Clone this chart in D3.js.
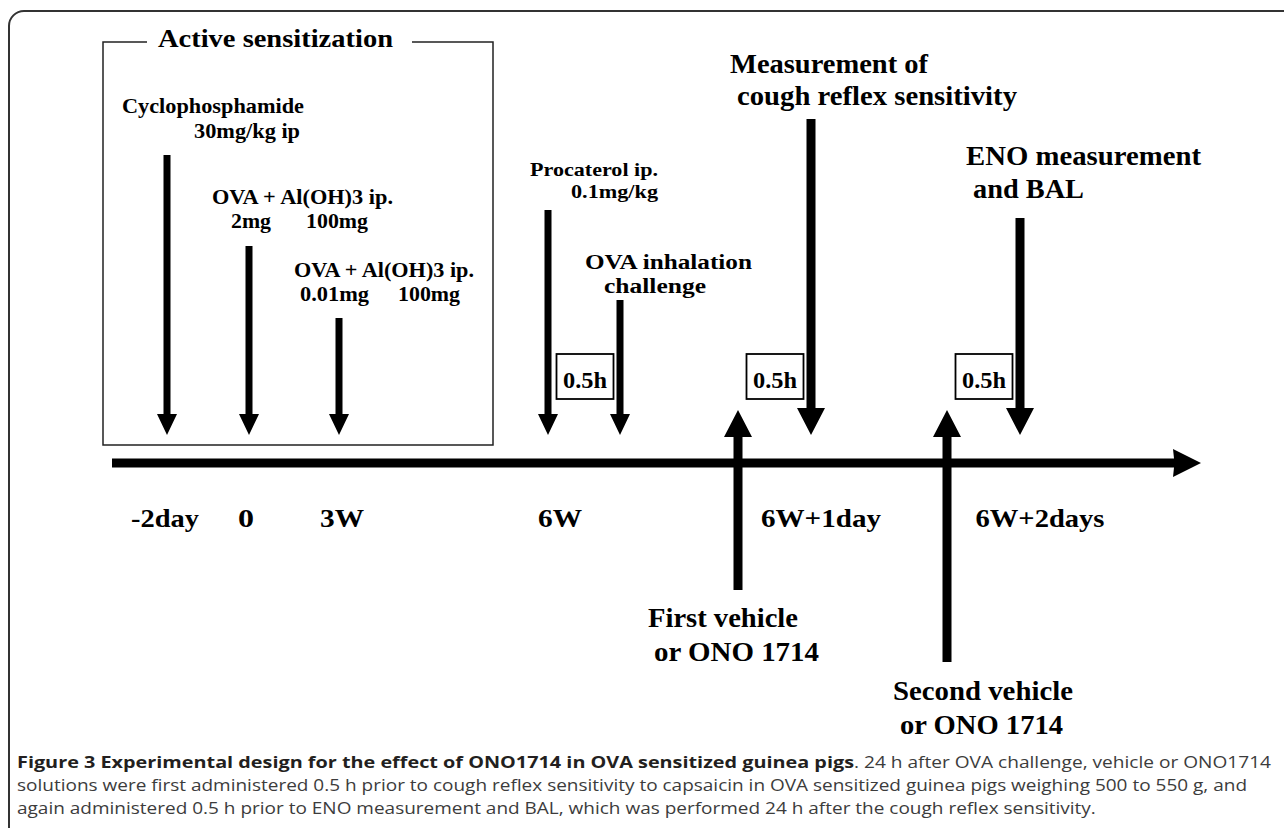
<!DOCTYPE html>
<html><head><meta charset="utf-8">
<script src="https://cdn.jsdelivr.net/npm/d3@7"></script>
<style>html,body{margin:0;padding:0;background:#fff;overflow:hidden}</style>
</head><body>
<svg id="c" width="1284" height="828"></svg>
<script>
// ---- data ----
const timeLabels = ["-2day", "0", "3W", "6W", "6W+1day", "6W+2days"];
const timeLabelT = [53, 134, 230, 448, 709, 928];          // timeline units (centre)
const downEventNames = ["Cyclophosphamide", "OVA 2mg", "OVA 0.01mg", "Procaterol", "OVA inhalation", "Cough reflex", "ENO/BAL"];
const downEventT = [55, 137, 227, 436, 508, 699, 908];      // timeline units
const downEventHeight = [308, 217, 145, 253, 163, 344, 245]; // height above timeline
const downEventThick = [false, false, false, false, false, true, true];
const upEventNames = ["First vehicle", "Second vehicle"];
const upEventT = [626, 835];
const upEventDepth = [-127, -199];                          // depth below timeline
const intervalLabels = ["0.5h", "0.5h", "0.5h"];
const intervalT = [473, 663, 872];                          // box centres

const diagramTexts = [
  ["Active sensitization", 158, 393, 47, 25],
  ["Cyclophosphamide", 122, 304, 113, 21],
  ["30mg/kg ip", 194, 300, 138, 21],
  ["OVA + Al(OH)3 ip.", 212, 393, 204, 20.5],
  ["2mg", 231, 271, 228, 20.5],
  ["100mg", 306, 368, 228, 20.5],
  ["OVA + Al(OH)3 ip.", 294, 474, 277, 20.5],
  ["0.01mg", 300, 369, 301, 20.5],
  ["100mg", 398, 460, 301, 20.5],
  ["Procaterol ip.", 530, 658, 176, 19],
  ["0.1mg/kg", 571, 658, 198, 19],
  ["OVA inhalation", 585, 752, 269, 20.5],
  ["challenge", 604, 706, 293, 20.5],
  ["Measurement of", 730, 928, 73, 27.5],
  ["cough reflex sensitivity", 737, 1017, 105, 27.5],
  ["ENO measurement", 966, 1201, 165, 28],
  ["and BAL", 973, 1084, 198, 28],
  ["First vehicle", 648, 798, 627, 28],
  ["or ONO 1714", 654, 819, 661, 28],
  ["Second vehicle", 893, 1073, 700, 28],
  ["or ONO 1714", 900, 1063, 734, 28]
];
const timeLabelWidth = [68, 16, 44, 44, 120, 129];

const captionBold = "Figure 3 Experimental design for the effect of ONO1714 in OVA sensitized guinea pigs";
const captionLines = [
  ". 24 h after OVA challenge, vehicle or ONO1714",
  "solutions were first administered 0.5 h prior to cough reflex sensitivity to capsaicin in OVA sensitized guinea pigs weighing 500 to 550 g, and",
  "again administered 0.5 h prior to ENO measurement and BAL, which was performed 24 h after the cough reflex sensitivity."
];

// ---- scales ----
const xScale = d3.scaleLinear().domain([0, 1089]).range([112, 1201]);
const yScale = d3.scaleLinear().domain([0, 463]).range([463, 0]);

const svg = d3.select("#c");
svg.append("rect").attr("width", 1284).attr("height", 828).attr("fill", "#fff");

// outer frame
svg.append("path").attr("d", "M1290,11H24A15,15 0 0 0 9,26V840")
  .attr("fill", "none").attr("stroke", "#333").attr("stroke-width", 2);

// active sensitization box
svg.append("path").attr("d", "M147,42H103V445H493V42H412")
  .attr("fill", "none").attr("stroke", "#222").attr("stroke-width", 1.5);

const line = d3.line();
function downArrow(x, yTop, yTip, sw, hw, hh) {
  return line([[x - sw / 2, yTop], [x + sw / 2, yTop], [x + sw / 2, yTip - hh], [x + hw / 2, yTip - hh],
    [x, yTip], [x - hw / 2, yTip - hh], [x - sw / 2, yTip - hh]]) + "Z";
}
function upArrow(x, yBot, yTip, sw, hw, hh) {
  return line([[x - sw / 2, yBot], [x + sw / 2, yBot], [x + sw / 2, yTip + hh], [x + hw / 2, yTip + hh],
    [x, yTip], [x - hw / 2, yTip + hh], [x - sw / 2, yTip + hh]]) + "Z";
}

// timeline
const tlY = yScale(0);
svg.append("path")
  .attr("d", line([[xScale(0), tlY - 4.5], [xScale(1062), tlY - 4.5], [xScale(1061), tlY - 14],
    [xScale(1089), tlY], [xScale(1061), tlY + 14], [xScale(1062), tlY + 4.5], [xScale(0), tlY + 4.5]]) + "Z")
  .attr("fill", "#000");

// down arrows
svg.selectAll("path.down").data(downEventNames).join("path").attr("class", "down")
  .attr("d", (d, i) => {
    const thick = downEventThick[i];
    return downArrow(xScale(downEventT[i]), yScale(downEventHeight[i]), yScale(28),
      thick ? 9 : 7, thick ? 28 : 20, thick ? 27 : 21);
  })
  .attr("fill", "#000");

// up arrows
svg.selectAll("path.up").data(upEventNames).join("path").attr("class", "up")
  .attr("d", (d, i) => upArrow(xScale(upEventT[i]), yScale(upEventDepth[i]), yScale(53), 9, 28, 27))
  .attr("fill", "#000");

// interval boxes
const boxes = svg.selectAll("g.box").data(intervalLabels).join("g").attr("class", "box");
boxes.append("rect")
  .attr("x", (d, i) => xScale(intervalT[i]) - 28.5).attr("y", yScale(109))
  .attr("width", 57).attr("height", 45)
  .attr("fill", "#fff").attr("stroke", "#000").attr("stroke-width", 1.8);
boxes.append("text")
  .attr("x", (d, i) => xScale(intervalT[i]) - 22).attr("y", yScale(75))
  .attr("textLength", 44).attr("lengthAdjust", "spacingAndGlyphs")
  .attr("font-family", "Liberation Serif, Times New Roman, serif").attr("font-weight", "bold")
  .attr("font-size", 24).text(d => d);

// diagram texts
svg.selectAll("text.lab").data(diagramTexts).join("text").attr("class", "lab")
  .attr("x", d => d[1]).attr("y", d => d[3])
  .attr("textLength", d => d[2] - d[1]).attr("lengthAdjust", "spacingAndGlyphs")
  .attr("font-family", "Liberation Serif, Times New Roman, serif").attr("font-weight", "bold")
  .attr("font-size", d => d[4]).attr("fill", "#000").text(d => d[0]);

// time labels
svg.selectAll("text.tl").data(timeLabels).join("text").attr("class", "tl")
  .attr("x", (d, i) => xScale(timeLabelT[i]) - timeLabelWidth[i] / 2).attr("y", 527)
  .attr("textLength", (d, i) => timeLabelWidth[i]).attr("lengthAdjust", "spacingAndGlyphs")
  .attr("font-family", "Liberation Serif, Times New Roman, serif").attr("font-weight", "bold")
  .attr("font-size", 26).attr("fill", "#000").text(d => d);

// caption
const capFont = "Open Sans, Noto Sans, sans-serif";
const capSize = 16.5;
svg.append("text").attr("x", 17).attr("y", 768)
  .attr("textLength", 837).attr("lengthAdjust", "spacingAndGlyphs")
  .attr("font-family", capFont).attr("font-weight", "bold").attr("font-size", capSize)
  .attr("fill", "#231f20").text(captionBold);
svg.append("text").attr("x", 854).attr("y", 768)
  .attr("textLength", 417).attr("lengthAdjust", "spacingAndGlyphs")
  .attr("font-family", capFont).attr("font-size", capSize)
  .attr("fill", "#3c3c3c").text(captionLines[0]);
const l2 = svg.append("text").attr("x", 17).attr("y", 791)
  .attr("font-family", capFont).attr("font-size", capSize)
  .attr("fill", "#3c3c3c").text(captionLines[1]);
const l3 = svg.append("text").attr("x", 17).attr("y", 814)
  .attr("font-family", capFont).attr("font-size", capSize)
  .attr("fill", "#3c3c3c").text(captionLines[2]);
const ratio = 1230 / l2.node().getComputedTextLength();
l2.attr("textLength", 1230).attr("lengthAdjust", "spacingAndGlyphs");
l3.attr("textLength", l3.node().getComputedTextLength() * ratio).attr("lengthAdjust", "spacingAndGlyphs");
</script>
</body></html>
